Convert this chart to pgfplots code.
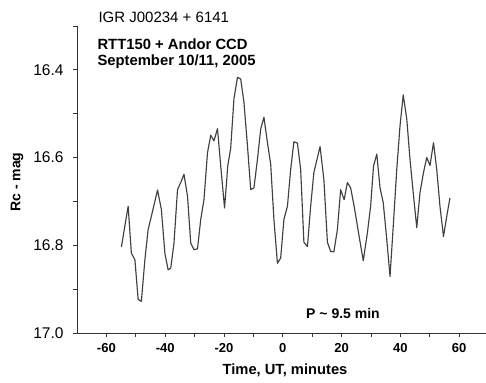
\documentclass[border=0pt]{standalone}
\usepackage{fontspec}
\setmainfont{Liberation Sans}
\usepackage{pgfplots}
\pgfplotsset{compat=1.18}
\begin{document}
\begin{tikzpicture}[x=1pt,y=1pt]
\useasboundingbox (0,0) rectangle (486,382);
\begin{axis}[
  at={(77pt,49pt)}, anchor=south west,
  scale only axis, width=410pt, height=307pt,
  xmin=-70, xmax=69.5, ymin=16.3, ymax=17.0,
  y dir=reverse,
  axis x line*=bottom, axis y line*=left,
  axis line style={line width=0.9pt, black!80},
  xtick={-60,-40,...,60},
  minor xtick={-50,-30,...,50},
  ytick={16.4,16.6,16.8,17.0},
  minor ytick={16.3,16.5,16.7,16.9},
  tick align=outside,
  major tick length=4pt, minor tick length=4pt,
  tick style={line width=0.8pt, black!80},
  /pgf/number format/assume math mode=true,
  yticklabel style={/pgf/number format/fixed, /pgf/number format/fixed zerofill, /pgf/number format/precision=1},
  yticklabel style={font=\fontsize{15.5}{16}\selectfont, xshift=-6pt},
  xticklabel style={font=\bfseries\fontsize{13}{14}\selectfont, yshift=-3pt},
  clip=false,
]
\addplot[line width=1.15pt, black!75, line join=round] coordinates {
(-54.9,16.804) (-52.6,16.711) (-51.5,16.818) (-50.3,16.833) (-49.2,16.923)
(-48.1,16.928) (-46.9,16.833) (-45.8,16.764) (-44.7,16.734) (-42.6,16.674)
(-41.3,16.718) (-40.1,16.818) (-39.0,16.856) (-38.1,16.852) (-37.0,16.795)
(-35.8,16.673) (-34.7,16.657) (-33.6,16.638) (-32.4,16.688) (-31.3,16.795)
(-30.2,16.810) (-29.0,16.808) (-27.9,16.741) (-26.8,16.696) (-25.6,16.589)
(-24.5,16.549) (-23.4,16.562) (-22.2,16.534) (-21.1,16.619) (-19.8,16.715)
(-18.7,16.619) (-17.7,16.578) (-16.6,16.466) (-15.4,16.417) (-14.3,16.421)
(-13.2,16.474) (-12.0,16.573) (-10.9,16.673) (-9.8,16.669) (-8.6,16.604)
(-7.5,16.535) (-6.4,16.508) (-5.2,16.566) (-4.1,16.615) (-3.0,16.741)
(-1.8,16.841) (-0.7,16.829) (0.4,16.741) (1.6,16.711) (2.7,16.627)
(3.8,16.564) (5.0,16.567) (6.1,16.627) (7.2,16.793) (8.4,16.803)
(9.5,16.711) (10.6,16.634) (12.7,16.575) (14.0,16.650) (15.2,16.793)
(16.3,16.814) (17.4,16.815) (18.6,16.764) (19.7,16.673) (20.9,16.696)
(22.0,16.657) (23.1,16.669) (24.3,16.711) (26.0,16.780) (27.4,16.835)
(28.8,16.772) (29.9,16.711) (30.9,16.619) (32.0,16.592) (33.1,16.669)
(34.2,16.703) (35.4,16.787) (36.5,16.871) (37.6,16.757) (38.8,16.627)
(39.9,16.528) (41.0,16.457) (42.2,16.512) (43.3,16.604) (44.4,16.680)
(45.6,16.760) (46.7,16.680) (47.9,16.634) (49.0,16.600) (50.1,16.618)
(51.3,16.566) (52.4,16.627) (53.5,16.711) (54.7,16.780) (55.8,16.734)
(56.9,16.692)
};
\end{axis}
\node[anchor=west, font=\fontsize{15}{16}\selectfont] at (95,365) {IGR J00234 + 6141};
\node[anchor=west, font=\bfseries\fontsize{14.8}{15}\selectfont] at (94,338) {RTT150 + Andor CCD};
\node[anchor=west, font=\bfseries\fontsize{14.8}{15}\selectfont] at (94,320) {September 10/11, 2005};
\node[font=\bfseries\fontsize{14}{15}\selectfont] at (343,69) {P \textasciitilde{} 9.5 min};
\node[rotate=90, font=\bfseries\fontsize{14}{15}\selectfont] at (17,200) {Rc - mag};
\node[font=\bfseries\fontsize{14.7}{15}\selectfont] at (285,12) {Time, UT, minutes};
\end{tikzpicture}
\end{document}
